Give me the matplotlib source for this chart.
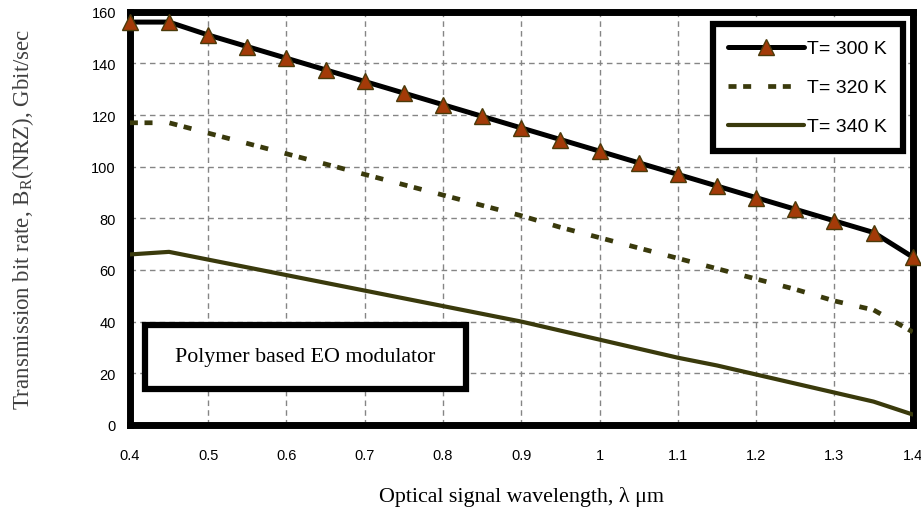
import numpy as np
import matplotlib
matplotlib.use("Agg")
import matplotlib.pyplot as plt
from matplotlib.patches import Rectangle

# wavelength, um
wl = [0.40, 0.45, 0.50, 0.55, 0.60, 0.65, 0.70, 0.75, 0.80, 0.85, 0.90,
      0.95, 1.00, 1.05, 1.10, 1.15, 1.20, 1.25, 1.30, 1.35, 1.40]

# bit rate, Gbit/sec
br_300 = [156, 156, 151, 146.5, 142, 137.5, 133, 128.5, 124, 119.5, 115,
          110.5, 106, 101.5, 97, 92.5, 88, 83.5, 79, 74.5, 65]
br_320 = [117, 117, 113, 109, 105, 101, 97, 93, 89, 85, 81,
          76.5, 72.5, 68.5, 64.5, 60.5, 56.5, 52.5, 48, 44.5, 36]
br_340 = [66, 67, 64, 61, 58, 55, 52, 49, 46, 43, 40,
          36.5, 33, 29.5, 26, 23, 19.5, 16, 12.5, 9, 4]

x_ticks = [0.4, 0.5, 0.6, 0.7, 0.8, 0.9, 1.0, 1.1, 1.2, 1.3, 1.4]
x_labels = ["0.4", "0.5", "0.6", "0.7", "0.8", "0.9", "1", "1.1", "1.2", "1.3", "1.4"]
y_ticks = [0, 20, 40, 60, 80, 100, 120, 140, 160]

sans = ["Liberation Sans Narrow", "Liberation Sans", "DejaVu Sans"]
serif = ["Liberation Serif", "DejaVu Serif"]

fig = plt.figure(figsize=(9.21, 5.10), dpi=100)
ax = fig.add_axes([0.141, 0.165, 0.85, 0.81])

olive = "#3a3a0c"
ax.plot(wl, br_300, color="black", lw=3.6, marker="^", ms=11,
        mfc="#a33a08", mec="#4a3a0a", mew=1.0, label="T= 300 K",
        solid_capstyle="round", clip_on=False, zorder=5)
ax.plot(wl, br_320, color=olive, lw=3.4, ls=(0, (1.7, 1.4, 1.7, 3.6)),
        label="T= 320 K", zorder=4)
ax.plot(wl, br_340, color=olive, lw=3.0, label="T= 340 K",
        solid_capstyle="round", zorder=4)

ax.set_xlim(0.4, 1.4)
ax.set_ylim(0, 160)
ax.set_xticks(x_ticks)
ax.set_xticklabels(x_labels)
ax.set_yticks(y_ticks)
ax.tick_params(length=0, labelsize=10.5)
ax.tick_params(axis="y", pad=10)
ax.tick_params(axis="x", pad=17)
for lab in ax.get_xticklabels() + ax.get_yticklabels():
    lab.set_family(sans)

ax.grid(True, color="#858585", ls=(0, (4, 3)), lw=1.0)
ax.set_axisbelow(True)
for sp in ax.spines.values():
    sp.set_linewidth(5)
    sp.set_color("black")

ax.set_xlabel("Optical signal wavelength, \u03bb \u03bcm", family=serif,
              fontsize=15.8, labelpad=17)
ax.set_ylabel("Transmission bit rate, B$_\\mathregular{R}$(NRZ), Gbit/sec",
              family=serif, fontsize=16.5, color="#404040", labelpad=40)

leg = ax.legend(loc="upper right", bbox_to_anchor=(0.987, 0.97),
                prop={"family": sans, "size": 14}, frameon=True,
                fancybox=False, framealpha=1, handlelength=3.9,
                handletextpad=0.15, labelspacing=1.1, borderpad=0.8,
                borderaxespad=0)
leg.get_frame().set_edgecolor("black")
leg.get_frame().set_linewidth(4.5)

# annotation box in axes fraction
box = Rectangle((0.019, 0.087), 0.411, 0.155, transform=ax.transAxes,
                fc="white", ec="black", lw=4.5, zorder=6)
ax.add_patch(box)
ax.text(0.2245, 0.1645, "Polymer based EO modulator", transform=ax.transAxes,
        family=serif, fontsize=15.8, va="center", ha="center", zorder=7)

fig.savefig("out.png", dpi=100)
